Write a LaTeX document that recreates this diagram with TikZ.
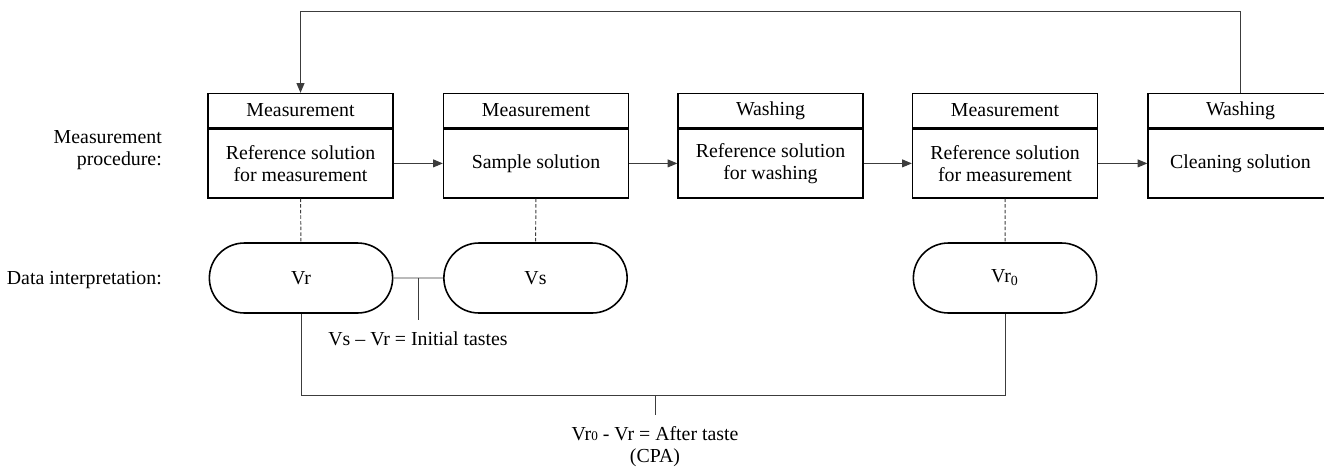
\documentclass[tikz,border=0pt]{standalone}
\usepackage{fontspec}
\setmainfont{Liberation Serif}
\usepackage{tikz}
\usetikzlibrary{arrows.meta, positioning, shapes.misc}
\definecolor{linecolor}{RGB}{60,60,60}

\begin{document}
\begin{tikzpicture}[
    x=0.02cm, y=-0.02cm,
    font=\fontsize{11.3}{12.5}\selectfont,
    head/.style={draw, line width=0.8pt, minimum width=3.7cm, minimum height=0.68cm, inner sep=1pt},
    body/.style={draw, line width=0.8pt, minimum width=3.7cm, minimum height=1.38cm, align=center, inner sep=1pt},
    term/.style={draw, line width=0.9pt, rounded rectangle, minimum width=3.9cm, minimum height=1.4cm},
    conn/.style={draw=linecolor, line width=0.55pt},
    flow/.style={conn, -{Triangle[length=5.5pt, width=4.5pt]}},
    probe/.style={draw=linecolor, line width=0.55pt, dash pattern=on 2pt off 1.2pt}
]
    \useasboundingbox (0,0) rectangle (1324,467);
    \clip (0,0) rectangle (1324,467);

    % row labels
    \node[anchor=east, align=right] (proclbl) at (168,150) {Measurement\\procedure:};
    \node[anchor=east] (datalbl) at (168,280) {Data interpretation:};

    % measurement procedure
    \node[head] (head1) at (300.5,110.5) {Measurement};
    \node[body, below=0pt of head1] (body1) {Reference solution\\for measurement};
    \node[head] (head2) at (536,110.5) {Measurement};
    \node[body, below=0pt of head2] (body2) {Sample solution};
    \node[head] (head3) at (770.5,110.5) {Washing};
    \node[body, below=0pt of head3] (body3) {Reference solution\\for washing};
    \node[head] (head4) at (1005,110.5) {Measurement};
    \node[body, below=0pt of head4] (body4) {Reference solution\\for measurement};
    \node[head] (head5) at (1240.5,110.5) {Washing};
    \node[body, below=0pt of head5] (body5) {Cleaning solution};

    \draw[flow] (body1) -- (body2);
    \draw[flow] (body2) -- (body3);
    \draw[flow] (body3) -- (body4);
    \draw[flow] (body4) -- (body5);
    \draw[flow] (head5.north) -- ++(0,-81) -| (head1.north);

    % data interpretation
    \node[term] (vr) at (301,278) {Vr};
    \node[term] (vs) at (535.5,278) {Vs};
    \node[term] (vrzero) at (1005,278) {Vr\textsubscript{0}};

    \draw[probe] (body1) -- (vr);
    \draw[probe] (body2) -- (vs);
    \draw[probe] (body4) -- (vrzero);

    \coordinate (inittick) at (418,278);
    \coordinate (inittickend) at (418,320);
    \draw[conn] (vr) -- (vs);
    \draw[conn] (inittick) -- (inittickend);
    \node (initlbl) at (418,339) {Vs -- Vr = Initial tastes};

    \coordinate (aftertick) at (655,395);
    \coordinate (aftertickend) at (655,415);
    \draw[conn] (vr.south) -- ++(0,82) -| (vrzero.south);
    \draw[conn] (aftertick) -- (aftertickend);
    \node[align=center] (afterlbl) at (655,447) {Vr{\fontsize{7.5}{8}\selectfont 0} - Vr = After taste\\(CPA)};
\end{tikzpicture}
\end{document}
